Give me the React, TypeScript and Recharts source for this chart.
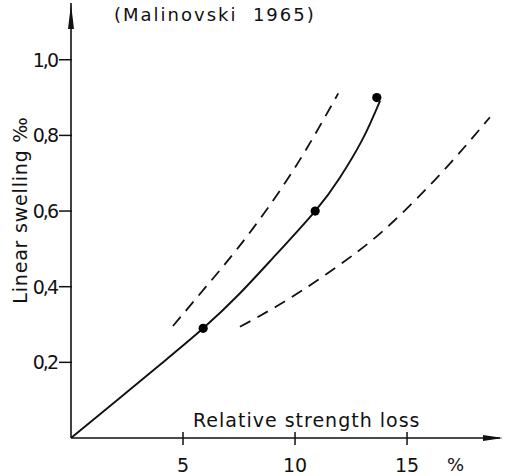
import React from 'react';
import { ComposedChart, Line, Scatter, XAxis, YAxis, ReferenceDot, Label } from 'recharts';

const measuredX = [5.9, 10.9, 13.65];
const measuredY = [0.29, 0.6, 0.9];

const fitX = [0, 2.0, 4.0, 5.9, 7.5, 9.0, 10.9, 12.0, 13.0, 13.8];
const fitY = [0, 0.097, 0.195, 0.29, 0.38, 0.475, 0.6, 0.688, 0.788, 0.892];

const upperX = [4.55, 6.0, 7.5, 9.0, 10.2, 11.1, 11.93];
const upperY = [0.296, 0.398, 0.506, 0.626, 0.734, 0.824, 0.911];

const lowerX = [7.54, 9.2, 11.0, 12.8, 14.4, 16.6, 18.7];
const lowerY = [0.294, 0.349, 0.417, 0.493, 0.573, 0.705, 0.848];

const xTicks = [5, 10, 15];
const yTicks = [0.2, 0.4, 0.6, 0.8, 1.0];

const titleText = '(Malinovski  1965)';
const xTitle = 'Relative strength loss';
const xUnit = '%';
const yTitle = 'Linear swelling ‰';

const X_MAX = 19.15;
const Y_MAX = 1.15;

const zip = (xs: number[], ys: number[]) => xs.map((x, i) => ({ x, y: ys[i] }));
const measured = zip(measuredX, measuredY);
const fit = zip(fitX, fitY);
const upper = zip(upperX, upperY);
const lower = zip(lowerX, lowerY);

const FONT = '"DejaVu Sans", sans-serif';
const INK = '#111';

const XTick = (props: any) => {
  const { x, y, payload } = props;
  return (
    <g>
      <line x1={x} y1={y - 6} x2={x} y2={y + 7} stroke={INK} strokeWidth={1.5} />
      <text x={x} y={y + 34} textAnchor="middle" fontFamily={FONT} fontSize={19} fill={INK}>
        {String(payload.value)}
      </text>
    </g>
  );
};

const YTick = (props: any) => {
  const { x, y, payload } = props;
  const label = Number(payload.value).toFixed(1).replace('.', ',');
  return (
    <g>
      <line x1={x - 12} y1={y} x2={x + 1} y2={y} stroke={INK} strokeWidth={1.5} />
      <text x={x - 14} y={y} textAnchor="end" dominantBaseline="central" fontFamily={FONT}
        fontSize={19} letterSpacing={-2} fill={INK}>
        {label}
      </text>
    </g>
  );
};

const XArrow = (props: any) => {
  const { cx, cy } = props;
  return <path d={`M${cx + 3},${cy} L${cx - 17},${cy - 3} L${cx - 17},${cy + 3} Z`} fill={INK} />;
};

const YArrow = (props: any) => {
  const { cx, cy } = props;
  return <path d={`M${cx},${cy + 1} L${cx - 3},${cy + 26} L${cx + 3},${cy + 26} Z`} fill={INK} />;
};

const Dot = (props: any) => {
  const { cx, cy } = props;
  return <circle cx={cx} cy={cy} r={4.6} fill="#000" />;
};

const XLabel = (props: any) => {
  const vb = props.viewBox || {};
  const x0 = vb.x;
  const y0 = vb.y;
  return (
    <g>
      <text x={x0 + 122} y={y0 - 11} fontFamily={FONT} fontSize={19} letterSpacing={1} fill={INK}>
        {xTitle}
      </text>
      <text x={x0 + 376} y={y0 + 33} fontFamily={FONT} fontSize={18} fill={INK}>
        {xUnit}
      </text>
    </g>
  );
};

const YLabel = () => (
  <text x={20} y={210} transform="rotate(-90 20 210)" textAnchor="middle" dominantBaseline="central"
    fontFamily={FONT} fontSize={19} letterSpacing={0.8} fill={INK}>
    {yTitle}
  </text>
);

export default function App() {
  return (
    <div style={{ position: 'absolute', left: 0, top: 0, width: 505, height: 476, background: '#fff' }}>
      <div style={{ position: 'absolute', left: 114, top: 3, fontFamily: FONT, fontSize: 18,
        letterSpacing: 2, color: INK, whiteSpace: 'pre', lineHeight: '24px' }}>
        {titleText}
      </div>
      <ComposedChart width={505} height={476} margin={{ top: 3, right: 5, bottom: 0, left: 11 }}>
        <XAxis dataKey="x" type="number" domain={[0, X_MAX]} ticks={xTicks} tick={<XTick />}
          tickSize={0} tickMargin={0} height={38} axisLine={{ stroke: INK, strokeWidth: 1.6 }}
          allowDataOverflow interval={0}>
          <Label content={<XLabel />} />
        </XAxis>
        <YAxis dataKey="y" type="number" domain={[0, Y_MAX]} ticks={yTicks} tick={<YTick />}
          tickSize={0} tickMargin={0} width={60} axisLine={{ stroke: INK, strokeWidth: 1.6 }}
          allowDataOverflow interval={0}>
          <Label content={<YLabel />} />
        </YAxis>
        <Line data={upper} dataKey="y" type="natural" stroke={INK} strokeWidth={1.8}
          strokeDasharray="12 8" dot={false} activeDot={false} isAnimationActive={false} />
        <Line data={lower} dataKey="y" type="natural" stroke={INK} strokeWidth={1.8}
          strokeDasharray="12 8" dot={false} activeDot={false} isAnimationActive={false} />
        <Line data={fit} dataKey="y" type="natural" stroke={INK} strokeWidth={1.9}
          dot={false} activeDot={false} isAnimationActive={false} />
        <Scatter data={measured} dataKey="y" shape={<Dot />} isAnimationActive={false} />
        <ReferenceDot x={X_MAX} y={0} ifOverflow="visible" shape={<XArrow />} />
        <ReferenceDot x={0} y={Y_MAX} ifOverflow="visible" shape={<YArrow />} />
      </ComposedChart>
    </div>
  );
}
